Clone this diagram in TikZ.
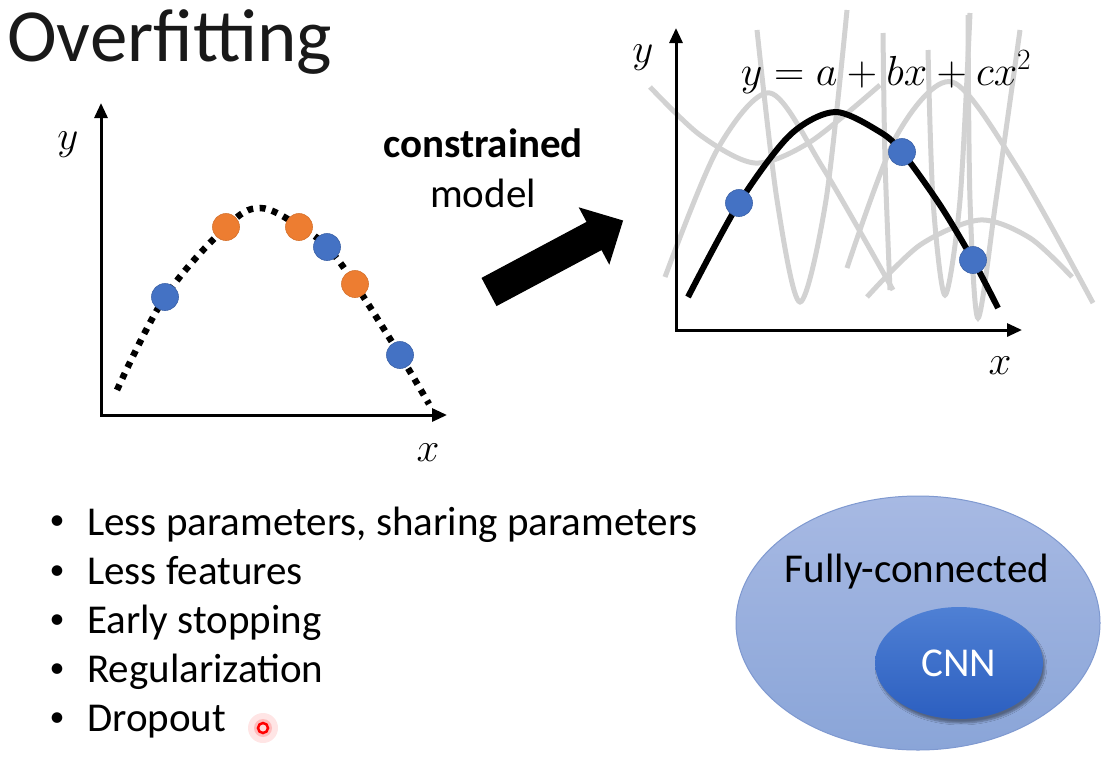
\RequirePackage{fix-cm}
\documentclass[tikz,border=0pt]{standalone}
\usepackage{fontspec}
\setmainfont{Carlito}
\usetikzlibrary{arrows.meta,shapes.geometric,shadows.blur,positioning}
\definecolor{dotblue}{HTML}{4472C4}
\definecolor{dotorange}{HTML}{ED7D31}
\definecolor{curvegray}{HTML}{D2D2D2}
\definecolor{fctop}{HTML}{A7B9E3}
\definecolor{fcbot}{HTML}{8AA5D8}
\definecolor{fcedge}{HTML}{7F99D0}
\definecolor{cnntop}{HTML}{4F80D4}
\definecolor{cnnbot}{HTML}{2C5FC0}
\tikzset{
  axis/.style={line width=3pt, {Triangle[length=15pt,width=13pt]}-{Triangle[length=15pt,width=13pt]}},
  bluedot/.style={circle, fill=dotblue, draw=dotblue!85!black, line width=0.6pt, minimum size=27pt, inner sep=0pt},
  orangedot/.style={bluedot, fill=dotorange, draw=dotorange!90!black},
  fewcurve/.style={curvegray, line width=5pt},
  bigtext/.style={font=\fontsize{41}{49}\selectfont},
}
\begin{document}
\begin{tikzpicture}[x=1pt,y=-1pt]
    \useasboundingbox (0,0) rectangle (1102,761);
    %% title
    \node[anchor=base west, inner sep=0pt, text=black!90, font=\fontsize{75}{82}\selectfont] (title) at (7,61) {Overfitting};
    %% left plot: too many dots fit
    \draw[axis] (101,103) |- (447,415);
    \node[bigtext] (ly) at (68,145) {$y$};
    \node[bigtext] (lx) at (428,453) {$x$};
    \draw[line width=6.5pt, dash pattern=on 6pt off 6.5pt] plot[smooth, tension=0.6] coordinates
        {(117,390) (165,297) (226,227) (260,208) (299,226) (327,247) (355,284) (400,355) (429,404)};
    \foreach \px/\py [count=\i] in {165/297, 327/247, 400/355}
        \node[bluedot] (lb\i) at (\px,\py) {};
    \foreach \px/\py [count=\i] in {226/227, 299/227, 355/284}
        \node[orangedot] (lo\i) at (\px,\py) {};
    %% constrained model
    \node[bigtext, font=\fontsize{41}{49}\selectfont\bfseries, anchor=base] (con) at (483,157) {constrained};
    \node[bigtext, anchor=base] (mod) at (483,207) {model};
    \fill (481.5,277.9) -- (586.5,221.9) -- (578.7,207.3) -- (623.1,220.5)
        -- (609.3,264.7) -- (601.5,250.1) -- (496.5,306.1) -- cycle;
    %% right plot: many curves, one parabola
    \draw[fewcurve] plot[smooth] coordinates {(650,87) (700,135) (755,163) (810,142) (880,85)};
    \draw[fewcurve] plot[smooth] coordinates {(665,277) (717,150) (770,93) (823,168) (893,290)};
    \draw[fewcurve] plot[smooth] coordinates {(757,30) (777,200) (800,302) (826,200) (847,10)};
    \draw[fewcurve] plot[smooth] coordinates {(847,268) (897,135) (952,82) (1017,167) (1093,303)};
    \draw[fewcurve] plot[smooth] coordinates {(867,297) (920,245) (980,220) (1030,238) (1072,277)};
    \draw[fewcurve] plot[smooth] coordinates {(883,33) (885,160) (890,290)};
    \draw[fewcurve] plot[smooth] coordinates {(928,50) (933,200) (945,295) (960,200) (970,13)};
    \draw[fewcurve] plot[smooth] coordinates {(968,15) (970,200) (978,318) (996,200) (1020,30)};
    \draw[axis] (676,28) |- (1022,330);
    \node[bigtext] (ry) at (643,58) {$y$};
    \node[bigtext] (rx) at (1000,366) {$x$};
    \draw[line width=6pt] plot[smooth] coordinates
        {(688,297) (739,203) (790,135) (835,112) (880,132) (902,152) (940,205) (973,260) (998,308)};
    \foreach \px/\py [count=\i] in {739/203, 902/152, 973/260}
        \node[bluedot] (rb\i) at (\px,\py) {};
    \node[font=\fontsize{42}{50}\selectfont, anchor=base] (eq) at (886,85) {$y=a+bx+cx^2$};
    %% bullets
    \foreach \t [count=\i] in {{Less parameters, sharing parameters}, Less features, Early stopping, Regularization, Dropout} {
        \node[font=\fontsize{30}{36}\selectfont] (bul\i) at (57,{523+49.2*(\i-1)}) {•};
        \node[bigtext, anchor=base west, inner sep=0pt] (item\i) at (87,{535+49.2*(\i-1)}) {\t};
    }
    %% pointer
    \node[circle, fill=red, opacity=0.10, minimum size=30pt] (glow) at (263,728) {};
    \node[circle, fill=red, opacity=0.18, minimum size=18pt] (glowin) at (263,728) {};
    \node[circle, draw=red, fill=red!15, line width=2.5pt, minimum size=10pt, inner sep=0pt] (ptr) at (263,728) {};
    %% sets
    \node[ellipse, top color=fctop, bottom color=fcbot, draw=fcedge, line width=1pt,
        minimum width=364pt, minimum height=254pt] (fc) at (918,623) {};
    \node[bigtext] (fclabel) at (917,572) {Fully-connected};
    \node[ellipse, top color=cnntop, bottom color=cnnbot, text=white, bigtext,
        minimum width=168pt, minimum height=112pt,
        blur shadow={shadow xshift=2pt, shadow yshift=-4pt, shadow blur steps=6}] (cnn) at (959,663) {CNN};
\end{tikzpicture}
\end{document}
